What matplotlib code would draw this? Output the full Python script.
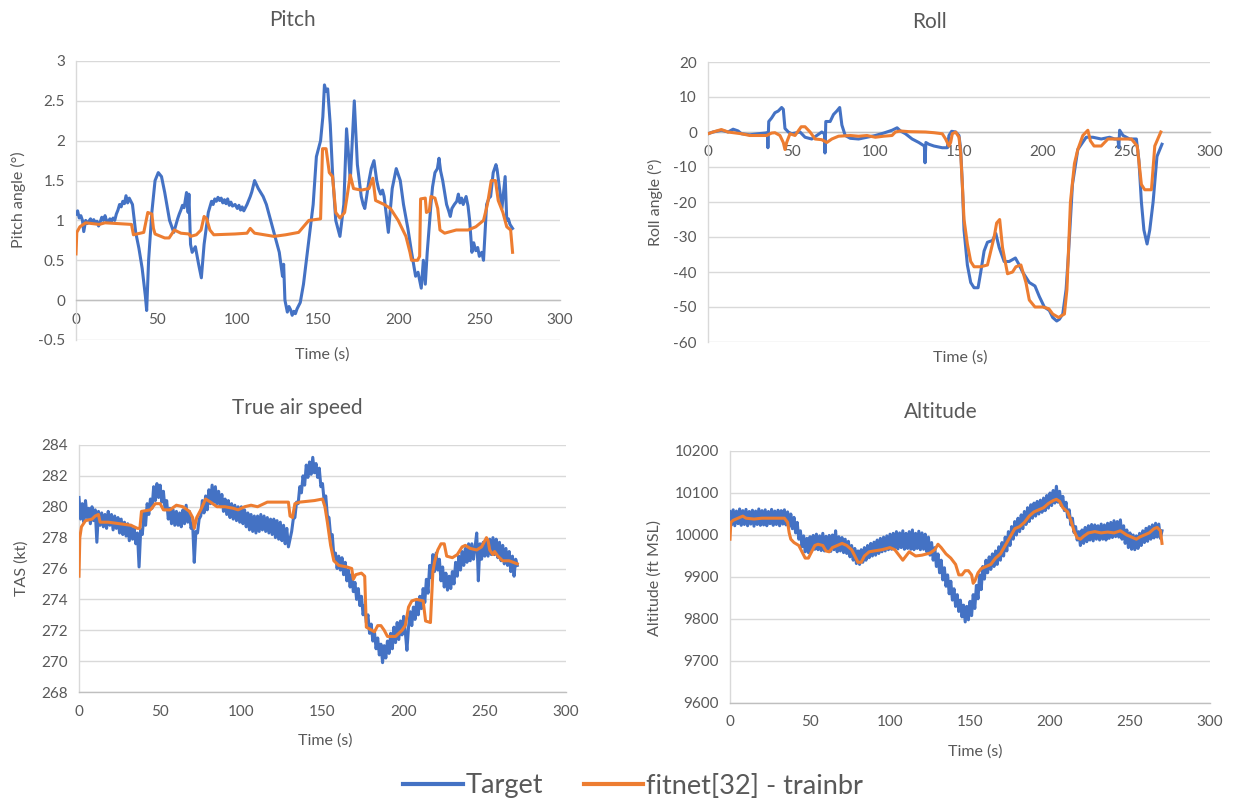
import numpy as np
import matplotlib
matplotlib.use("Agg")
import matplotlib.pyplot as plt
from matplotlib.lines import Line2D
from matplotlib.ticker import FuncFormatter

plt.rcParams['font.family'] = ['Lato', 'DejaVu Sans']
plt.rcParams['axes.unicode_minus'] = False

BLUE = '#4472C4'
ORANGE = '#ED7D31'
GRID = '#D9D9D9'
AXIS = '#BFBFBF'
TEXT = '#595959'

series_names = ['Target', 'fitnet[32] - trainbr']

# ---------------- Pitch (deg) ----------------
pitch_target_t = [
    0, 1, 2, 3, 4, 4.8, 6, 7, 8, 9,
    10, 11, 12, 13, 14, 15, 16, 17, 18, 19,
    20, 21, 22, 23, 24, 25, 26, 27, 28, 29,
    30, 31, 32, 33, 34, 35, 37, 39, 41, 43,
    43.8, 45, 47, 49, 51, 53, 55, 58, 60.6, 62,
    63, 64, 65, 66, 67, 68.5, 69.5, 70, 71, 72,
    74, 76, 77.7, 79.4, 82, 83, 84, 85, 86, 87,
    88, 89, 90, 91, 92, 93, 94, 95, 96, 97,
    98.6, 100, 101, 102, 103, 104, 105, 106, 107, 108,
    109, 110.7, 113, 116, 118, 120, 122.7, 126, 128, 128.7,
    129.5, 131, 132, 133, 134, 135, 136, 137, 139, 141,
    144, 147, 149, 151.6, 153, 154, 155, 156, 157.6, 159,
    161, 163.6, 166, 167.7, 169, 170, 172.5, 174.4, 176.8, 178,
    179, 180, 181.6, 183, 184.7, 186.4, 187.5, 188.8, 190, 191,
    193.6, 196, 198.5, 201, 203, 205.7, 208, 210.5, 212, 213,
    214, 215.3, 216.5, 217.7, 220, 221, 222.5, 224, 225, 226,
    227.3, 229.7, 231, 232, 233, 234.5, 236, 237, 238, 239,
    240, 241.8, 243, 244, 245.4, 246.5, 247.8, 249, 250, 251.5,
    252.6, 254.5, 256, 257, 258.6, 260.3, 261, 262.2, 264, 266,
    267, 268, 269, 270.6]
pitch_target = [
    1.08, 1.12, 1.03, 1.06, 1.00, 0.86, 1.00, 0.96, 0.99, 1.02,
    0.98, 1.01, 0.96, 0.99, 0.93, 0.98, 1.04, 1.00, 1.06, 0.99,
    0.98, 1.02, 0.99, 1.03, 1.00, 1.08, 1.13, 1.20, 1.17, 1.24,
    1.21, 1.31, 1.22, 1.28, 1.24, 1.20, 0.85, 0.65, 0.40, 0.05,
    -0.13, 0.50, 1.10, 1.50, 1.60, 1.55, 1.35, 1.00, 0.85, 0.95,
    1.02, 1.08, 1.13, 1.19, 1.16, 1.35, 1.10, 1.33, 0.70, 0.60,
    0.67, 0.45, 0.28, 0.70, 1.10, 1.17, 1.24, 1.20, 1.27, 1.24,
    1.29, 1.25, 1.28, 1.22, 1.26, 1.21, 1.27, 1.19, 1.23, 1.18,
    1.20, 1.15, 1.19, 1.13, 1.17, 1.12, 1.16, 1.20, 1.25, 1.30,
    1.36, 1.50, 1.40, 1.30, 1.20, 1.05, 0.85, 0.60, 0.30, 0.45,
    0.00, -0.15, -0.08, -0.12, -0.19, -0.14, -0.17, -0.11, -0.03, 0.20,
    0.70, 1.20, 1.80, 2.00, 2.30, 2.70, 2.62, 2.65, 2.20, 1.60,
    1.00, 0.80, 1.20, 2.15, 1.80, 1.50, 2.50, 1.70, 1.30, 1.20,
    1.15, 1.28, 1.50, 1.65, 1.75, 1.50, 1.40, 1.33, 1.38, 1.30,
    0.85, 1.40, 1.65, 1.50, 1.20, 0.90, 0.60, 0.30, 0.35, 0.25,
    0.15, 0.50, 0.20, 0.60, 1.20, 1.42, 1.60, 1.65, 1.78, 1.62,
    1.50, 1.20, 1.12, 1.05, 1.15, 1.20, 1.24, 1.33, 1.22, 1.28,
    1.20, 1.30, 1.18, 1.00, 0.60, 0.72, 0.62, 0.66, 0.55, 0.60,
    0.50, 1.20, 1.28, 1.30, 1.60, 1.70, 1.64, 1.45, 1.15, 1.55,
    1.00, 1.02, 0.95, 0.90]

pitch_fit_t = [
    0, 0.5, 2.4, 6, 14.4, 18, 34.4, 35.6, 42, 44.5,
    47, 48, 49, 55, 57.7, 61, 65, 70, 71, 74.6,
    77.5, 79.4, 81, 83, 85.4, 98.6, 106, 108, 110.7, 122.7,
    130, 138, 144.3, 151.6, 152.8, 155, 157, 159, 161, 163.6,
    166.5, 168.4, 170, 172, 176.8, 181.6, 184, 185.7, 191, 194.9,
    199.7, 204.5, 207, 208, 211.7, 213, 213.6, 216.5, 217.2, 219,
    220, 222.5, 224.2, 225.6, 228.5, 235.7, 243, 247.8, 252.6, 255,
    257.4, 260, 261.7, 264.6, 267, 269.4, 270.6]
pitch_fit = [
    0.58, 0.85, 0.92, 0.97, 0.95, 0.97, 0.95, 0.82, 0.85, 1.10,
    1.08, 0.90, 0.83, 0.78, 0.78, 0.88, 0.84, 0.83, 0.80, 0.82,
    0.88, 1.05, 1.02, 0.88, 0.82, 0.83, 0.84, 0.90, 0.84, 0.80,
    0.82, 0.85, 1.00, 1.02, 1.90, 1.90, 1.60, 1.55, 1.10, 1.03,
    1.10, 1.35, 1.57, 1.40, 1.38, 1.40, 1.53, 1.25, 1.20, 1.15,
    1.00, 0.80, 0.60, 0.50, 0.50, 0.55, 1.27, 1.28, 1.10, 1.12,
    1.30, 1.28, 1.15, 0.88, 0.84, 0.88, 0.88, 0.92, 1.00, 1.20,
    1.50, 1.50, 1.25, 1.10, 0.92, 0.88, 0.60]

# ---------------- Roll (deg) ----------------
roll_target_t = [
    0, 3, 5, 8, 12, 15, 18, 20, 25, 30,
    34, 35.5, 35.8, 36.3, 38, 40, 42, 44, 45, 46,
    48, 50, 55, 58, 62, 65, 68, 69.6, 69.9, 70.4,
    73, 75, 77, 78.7, 80, 82, 85, 90, 95, 100,
    105, 110, 113, 115, 118, 122, 126, 129.3, 129.7, 130.2,
    132, 135, 140, 143, 144, 145.6, 148, 150, 151, 152,
    153, 155, 157, 159, 161.4, 163, 165, 167, 170, 172,
    174, 177, 180, 183.7, 186, 188, 192, 195.4, 198, 201,
    204, 206, 208.4, 210, 212, 214, 215.4, 217.8, 221, 226,
    230, 235, 240, 243, 245, 245.5, 246, 248, 252, 256,
    257.5, 259, 260.5, 262.4, 264, 266, 268.3, 271.3]
roll_target = [
    -0.5, 0.0, 0.2, 0.5, 0.0, 0.8, 0.3, -0.5, -0.8, -0.5,
    -0.3, -0.2, -4.5, 3.0, 4.0, 5.5, 6.0, 7.0, 6.5, 1.0,
    0.0, -0.5, 0.0, -1.5, -2.0, -1.0, 0.0, -0.5, -6.0, 3.0,
    3.0, 5.0, 6.0, 7.0, 2.0, -1.0, -1.8, -2.0, -1.5, -1.0,
    -0.3, 0.5, 1.2, 0.3, -0.5, -2.0, -3.0, -4.0, -8.8, -3.0,
    -3.5, -4.0, -4.5, -4.5, -1.0, 0.2, 0.0, -1.0, -5.0, -15.0,
    -28.0, -38.0, -43.0, -44.5, -44.5, -40.0, -34.0, -31.5, -31.0, -29.0,
    -33.0, -37.0, -37.0, -36.0, -38.0, -40.0, -43.0, -44.0, -47.0, -50.0,
    -51.0, -53.0, -54.0, -53.5, -52.0, -45.0, -35.0, -15.0, -5.0, -1.5,
    -1.5, -2.0, -1.5, -2.0, -2.0, -4.5, 0.5, -1.0, -2.0, -2.0,
    -8.0, -20.0, -28.0, -32.0, -28.0, -20.0, -7.0, -3.5]

roll_fit_t = [
    0, 3, 8, 12, 20, 25, 30, 35, 38, 40,
    43, 45, 46, 47, 49, 52, 55.7, 58, 61, 64,
    68, 71, 74, 78, 85, 90, 95, 100, 105, 110,
    112, 115, 120, 130, 135, 140, 142, 144, 145, 146,
    148, 150, 151, 152, 153, 155, 157, 159, 163, 167,
    169, 171, 172.5, 174.3, 176, 179, 182, 184, 187, 190,
    192, 195.4, 200, 203.7, 206, 209.5, 213, 214.5, 216.6, 219,
    221, 224, 227, 228.5, 230.7, 235, 239, 245, 250, 253,
    256.5, 259, 261, 265, 267, 270.6]
roll_fit = [
    -0.5, 0.0, 0.7, 0.0, -0.5, -1.0, -1.0, -1.0, -0.3, -0.2,
    -1.0, -3.0, -5.0, -3.0, -0.5, -1.0, 1.5, 1.5, 0.0, -2.0,
    -2.2, -3.0, -2.0, -1.2, -1.0, -1.2, -1.0, -1.5, -1.2, -1.0,
    0.0, 0.3, 0.1, 0.0, -0.2, -0.5, -2.0, -4.0, -3.0, -0.5,
    0.0, -1.5, -6.0, -15.0, -25.0, -32.0, -37.0, -38.5, -38.5, -38.0,
    -34.0, -30.0, -26.0, -25.0, -33.0, -40.5, -40.0, -38.5, -38.0, -43.0,
    -48.0, -50.0, -50.0, -50.5, -52.0, -53.0, -52.0, -45.0, -20.0, -9.0,
    -5.0, -1.0, 0.5, -2.5, -4.0, -4.0, -2.0, -2.0, -2.0, -2.0,
    -4.0, -15.0, -16.5, -16.5, -4.0, 0.0]

# ---------------- True air speed (kt), target sampled every second ----------------
tas_target = [
    280.6, 279.2, 280.2, 279.0, 280.4, 279.3, 279.9, 278.9, 280.0, 279.1,
    279.8, 277.7, 279.7, 278.8, 279.6, 278.7, 279.5, 278.6, 279.7, 278.8,
    279.5, 278.5, 279.4, 278.6, 279.3, 278.3, 279.2, 278.2, 279.0, 278.1,
    278.9, 277.8, 278.8, 277.9, 278.6, 277.6, 278.3, 276.1, 278.5, 278.2,
    279.6, 278.8, 280.2, 279.5, 280.5, 279.9, 281.3, 280.4, 281.5, 280.6,
    281.4, 280.3, 281.0, 279.8, 280.4, 279.2, 279.9, 278.9, 279.8, 278.8,
    279.7, 278.8, 279.6, 278.7, 279.8, 278.9, 280.1, 279.0, 279.7, 278.6,
    278.9, 276.4, 278.4, 278.3, 279.2, 279.4, 280.4, 279.6, 280.7, 279.8,
    281.1, 280.2, 281.4, 280.3, 281.3, 280.2, 281.0, 280.0, 280.8, 279.7,
    280.5, 279.5, 280.4, 279.3, 280.2, 279.2, 280.1, 279.1, 280.0, 279.0,
    280.0, 278.9, 279.8, 278.7, 279.6, 278.5, 279.5, 278.4, 279.4, 278.3,
    279.4, 278.4, 279.5, 278.5, 279.4, 278.4, 279.3, 278.3, 279.2, 278.2,
    279.2, 278.0, 279.1, 277.9, 279.0, 277.8, 278.8, 277.6, 278.6, 277.4,
    277.9, 278.4, 279.2, 279.3, 280.3, 280.2, 281.3, 280.9, 282.0, 281.4,
    282.7, 281.9, 282.9, 282.1, 283.2, 282.2, 282.8, 281.9, 282.5, 281.3,
    281.5, 280.4, 280.7, 279.4, 279.3, 278.1, 278.2, 276.8, 277.0, 276.0,
    276.8, 275.9, 276.7, 275.6, 276.4, 275.2, 275.9, 274.8, 275.6, 274.5,
    275.1, 274.0, 274.7, 273.6, 274.2, 273.0, 273.6, 272.5, 273.0, 271.8,
    272.4, 271.3, 271.9, 270.8, 271.5, 270.4, 271.1, 269.9, 271.0, 270.2,
    271.3, 270.5, 271.8, 270.8, 272.2, 271.2, 272.5, 271.4, 272.6, 271.7,
    272.9, 271.9, 270.7, 272.2, 273.2, 272.3, 273.5, 272.7, 273.9, 273.0,
    274.2, 273.4, 274.7, 273.8, 275.3, 274.4, 276.2, 275.4, 276.9, 275.8,
    277.0, 275.9, 276.6, 275.2, 276.1, 274.8, 275.7, 274.6, 275.5, 274.7,
    275.8, 275.0, 276.4, 275.5, 276.8, 275.9, 277.1, 276.2, 277.3, 276.4,
    277.6, 276.5, 277.6, 276.6, 277.4, 278.3, 275.2, 277.6, 276.6, 277.7,
    276.8, 277.9, 276.8, 277.9, 276.9, 278.0, 276.9, 277.9, 276.7, 277.7,
    276.5, 277.5, 276.3, 277.3, 276.2, 277.1, 275.8, 276.8, 275.5, 276.6,
    276.2]
tas_target_t = np.arange(len(tas_target), dtype=float)

tas_fit_t = [
    0, 0.5, 1.5, 4, 8, 10, 12, 13, 18, 25,
    32, 36, 37.5, 38.5, 44, 47, 50, 52, 56, 60,
    64, 68, 70, 71, 72.5, 75, 78, 81, 85, 90,
    95, 98, 102, 106, 110, 114, 116, 124, 129, 130,
    131.5, 133, 136, 145, 150, 151.5, 153, 155, 157, 160,
    165, 168, 169, 170.5, 174, 176, 177, 182, 184, 186,
    188, 190, 195, 199, 201, 203, 205, 208, 212, 213.5,
    216.5, 218, 219, 221, 223, 225, 226.5, 230, 233, 236,
    238, 241, 245, 248, 251, 252, 253, 255, 256, 258,
    261, 265, 270]
tas_fit = [
    275.5, 278.0, 278.7, 279.1, 279.2, 279.4, 279.5, 279.0, 279.0, 278.9,
    278.8, 278.6, 278.6, 279.7, 279.8, 280.2, 280.2, 279.8, 279.8, 280.1,
    280.0, 279.7, 279.3, 278.6, 279.3, 279.8, 280.5, 280.3, 280.0, 280.0,
    279.9, 279.8, 280.0, 280.1, 280.0, 280.2, 280.3, 280.3, 280.3, 279.4,
    279.3, 280.2, 280.3, 280.4, 280.5, 280.0, 279.0, 277.5, 276.5, 276.2,
    276.1, 276.0, 275.3, 275.6, 275.7, 275.5, 272.2, 271.9, 272.3, 272.3,
    272.0, 271.6, 271.6, 272.0, 272.3, 273.5, 273.9, 274.0, 273.9, 272.6,
    272.5, 275.8, 276.4, 277.2, 277.6, 277.6, 276.8, 276.7, 276.9, 277.4,
    277.5, 277.3, 277.2, 277.4, 278.0, 277.8, 277.2, 276.9, 277.1, 276.8,
    276.5, 276.5, 276.3]

# ---------------- Altitude (ft MSL), target sampled every second ----------------
alt_target = [
    10056, 10024, 10060, 10022, 10057, 10027, 10062, 10023, 10058, 10025,
    10061, 10022, 10056, 10026, 10059, 10021, 10057, 10025, 10062, 10023,
    10058, 10024, 10060, 10022, 10056, 10027, 10061, 10023, 10057, 10025,
    10059, 10022, 10058, 10026, 10060, 10024, 10055, 10020, 10050, 10015,
    10042, 10005, 10030, 9990, 10010, 9972, 9998, 9960, 9992, 9958,
    9996, 9962, 9999, 9966, 10002, 9965, 9998, 9963, 10004, 9962,
    9997, 9964, 9999, 9961, 10000, 9965, 10010, 9960, 9996, 9962,
    9994, 9958, 9990, 9956, 9985, 9948, 9975, 9940, 9968, 9932,
    9962, 9930, 9965, 9935, 9970, 9940, 9975, 9946, 9980, 9950,
    9983, 9952, 9988, 9956, 9992, 9960, 9995, 9962, 9998, 9965,
    10002, 9966, 10004, 9968, 10008, 9967, 10005, 9970, 10010, 9966,
    10004, 9968, 10008, 9966, 10012, 9965, 10004, 9968, 10009, 9965,
    10005, 9966, 10002, 9960, 9995, 9952, 9982, 9940, 9970, 9925,
    9955, 9910, 9940, 9893, 9922, 9878, 9905, 9860, 9890, 9845,
    9872, 9830, 9858, 9818, 9845, 9805, 9833, 9793, 9830, 9798,
    9842, 9808, 9858, 9825, 9880, 9848, 9905, 9870, 9925, 9895,
    9940, 9910, 9948, 9918, 9955, 9925, 9962, 9930, 9972, 9940,
    9982, 9950, 9995, 9962, 10008, 9975, 10020, 9990, 10032, 10000,
    10040, 10008, 10048, 10015, 10056, 10025, 10065, 10032, 10072, 10040,
    10076, 10045, 10080, 10050, 10083, 10054, 10088, 10058, 10094, 10064,
    10100, 10070, 10106, 10076, 10116, 10078, 10104, 10070, 10092, 10058,
    10078, 10042, 10060, 10024, 10040, 10006, 10020, 9988, 10008, 9975,
    10012, 9980, 10018, 9984, 10022, 9988, 10025, 9986, 10024, 9990,
    10022, 9988, 10026, 9990, 10024, 9988, 10028, 9992, 10030, 9994,
    10034, 9996, 10032, 9995, 10036, 9990, 10022, 9980, 10012, 9970,
    10005, 9966, 10000, 9965, 9998, 9968, 10004, 9975, 10010, 9982,
    10016, 9985, 10020, 9990, 10024, 9993, 10028, 9995, 10026, 9992,
    10010]
alt_target_t = np.arange(len(alt_target), dtype=float)

alt_fit_t = [
    0, 0.5, 2, 5, 8, 10, 15, 20, 25, 30,
    34, 36, 37, 38, 40, 43, 45, 47, 49, 51,
    53, 55, 58, 60, 62, 64, 67, 70, 73, 76,
    78, 80, 82, 84, 87, 90, 95, 100, 103, 106,
    108, 110, 112, 114, 116, 120, 125, 128, 130, 132,
    135, 138, 141, 143, 145, 147, 149, 151, 152, 153,
    155, 157, 160, 163, 166, 169, 172, 175, 178, 181,
    184, 187, 190, 193, 196, 199, 202, 204, 206, 208,
    211, 213, 215, 217, 219, 221, 224, 228, 232, 236,
    240, 244, 246, 248, 251, 254, 256, 259, 262, 265,
    267, 269, 270]
alt_fit = [
    9990, 10030, 10035, 10040, 10045, 10040, 10038, 10040, 10040, 10040,
    10040, 10030, 10005, 9990, 9982, 9975, 9960, 9945, 9945, 9960,
    9975, 9978, 9975, 9962, 9960, 9970, 9975, 9980, 9975, 9965,
    9950, 9935, 9935, 9950, 9960, 9962, 9965, 9970, 9965, 9950,
    9940, 9950, 9960, 9955, 9950, 9952, 9957, 9965, 9978, 9970,
    9955, 9945, 9930, 9905, 9905, 9915, 9915, 9905, 9885, 9890,
    9910, 9920, 9925, 9930, 9945, 9955, 9975, 9995, 10015, 10020,
    10030, 10045, 10055, 10060, 10065, 10075, 10082, 10085, 10080, 10065,
    10055, 10035, 10010, 9993, 9990, 9997, 10005, 10008, 10005, 10007,
    10005, 10010, 10005, 10000, 9995, 9990, 9995, 10000, 10005, 10015,
    10018, 10010, 9980]

# ---------------- Figure ----------------
W, H = 1234, 801
fig = plt.figure(figsize=(W / 100, H / 100), dpi=100)
fig.patch.set_facecolor('white')


def px_axes(left, top, right, bottom):
    return fig.add_axes([left / W, 1 - bottom / H, (right - left) / W, (bottom - top) / H])


def style(ax, ylim, yticks, zero_axis=False):
    ax.set_xlim(0, 300)
    ax.set_xticks(np.arange(0, 301, 50))
    ax.set_ylim(*ylim)
    ax.set_yticks(yticks)
    ax.yaxis.set_major_formatter(FuncFormatter(lambda v, p: f'{v:g}'))
    ax.grid(axis='y', color=GRID, lw=1.0)
    ax.grid(axis='x', visible=False)
    ax.set_axisbelow(True)
    for s in ('top', 'right'):
        ax.spines[s].set_visible(False)
    ax.spines['left'].set_color(GRID)
    ax.spines['left'].set_linewidth(1.0)
    ax.spines['bottom'].set_color(AXIS)
    ax.spines['bottom'].set_linewidth(1.0)
    if zero_axis:
        ax.spines['bottom'].set_position(('data', 0))
    ax.tick_params(axis='both', length=0, labelsize=11, colors=TEXT)
    ax.tick_params(axis='y', pad=8)
    ax.tick_params(axis='x', pad=9)


def draw(ax, t1, y1, t2, y2):
    ax.plot(t1, y1, color=BLUE, lw=2.2, solid_joinstyle='round', zorder=3)
    ax.plot(t2, y2, color=ORANGE, lw=2.2, solid_joinstyle='round', zorder=4)


ax1 = px_axes(76, 61, 560, 340)
draw(ax1, pitch_target_t, pitch_target, pitch_fit_t, pitch_fit)
style(ax1, (-0.5, 3.0), np.arange(-0.5, 3.01, 0.5), zero_axis=True)

ax2 = px_axes(708, 62, 1210, 342)
draw(ax2, roll_target_t, roll_target, roll_fit_t, roll_fit)
style(ax2, (-60, 20), np.arange(-60, 21, 10), zero_axis=True)

ax3 = px_axes(79, 445, 566, 692)
draw(ax3, tas_target_t, tas_target, tas_fit_t, tas_fit)
style(ax3, (268, 284), np.arange(268, 285, 2))

ax4 = px_axes(730, 451, 1210, 703)
draw(ax4, alt_target_t, alt_target, alt_fit_t, alt_fit)
style(ax4, (9600, 10200), np.arange(9600, 10201, 100))


def ftext(x, y, s, **kw):
    fig.text(x / W, 1 - y / H, s, color=TEXT, ha='center', va='center', **kw)


# titles
ftext(292, 20, 'Pitch', fontsize=15)
ftext(930, 22, 'Roll', fontsize=15)
ftext(297, 408, 'True air speed', fontsize=15)
ftext(941, 412, 'Altitude', fontsize=15)

# axis titles
ftext(18, 200, 'Pitch angle (°)', fontsize=11.5, rotation=90)
ftext(655, 202, 'Roll angle (°)', fontsize=11.5, rotation=90)
ftext(22, 568, 'TAS (kt)', fontsize=11.5, rotation=90)
ftext(655, 578, 'Altitude (ft MSL)', fontsize=11.5, rotation=90)
ftext(322, 355, 'Time (s)', fontsize=11.5)
ftext(960, 358, 'Time (s)', fontsize=11.5)
ftext(325, 741, 'Time (s)', fontsize=11.5)
ftext(975, 752, 'Time (s)', fontsize=11.5)

handles = [Line2D([], [], color=BLUE, lw=3.0), Line2D([], [], color=ORANGE, lw=3.0)]
leg = fig.legend(handles, series_names, loc='center', bbox_to_anchor=(633 / W, 1 - 786 / H),
                 ncol=2, frameon=False, fontsize=19.5, handlelength=2.2,
                 handletextpad=0.1, columnspacing=1.5)
for txt in leg.get_texts():
    txt.set_color(TEXT)

fig.savefig('out.png', dpi=100, facecolor='white')
